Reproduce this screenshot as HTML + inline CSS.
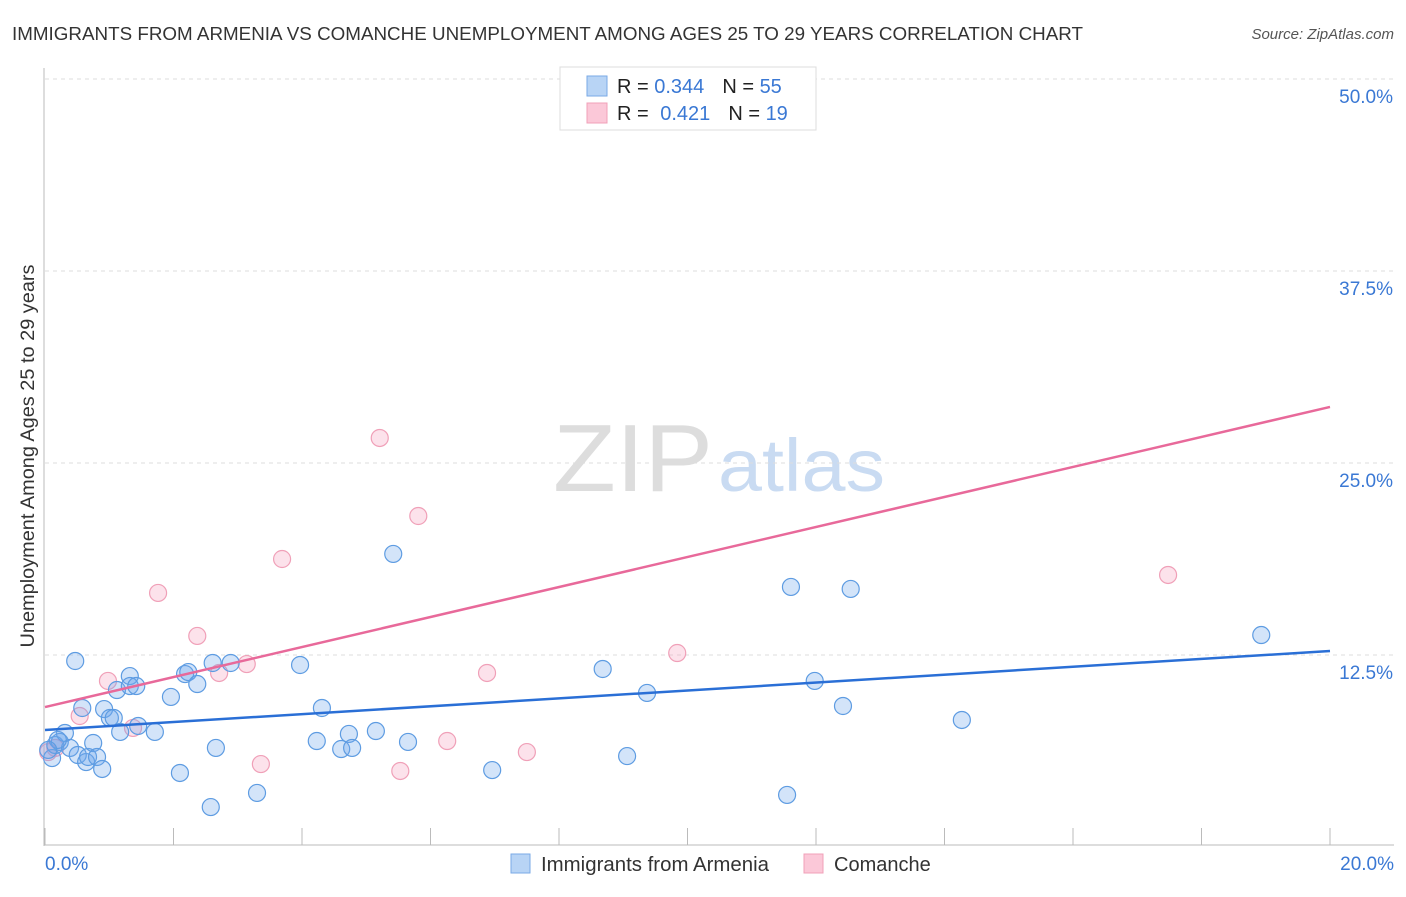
<!DOCTYPE html>
<html><head><meta charset="utf-8"><style>
body{margin:0;background:#fff;font-family:"Liberation Sans",sans-serif}
svg text{font-family:"Liberation Sans",sans-serif}
</style></head><body>
<svg id="c" width="1406" height="892" viewBox="0 0 1406 892">
<text x="12" y="40" font-size="18" fill="#333" textLength="1071" lengthAdjust="spacingAndGlyphs">IMMIGRANTS FROM ARMENIA VS COMANCHE UNEMPLOYMENT AMONG AGES 25 TO 29 YEARS CORRELATION CHART</text>
<text x="1394" y="39" font-size="15" fill="#555" font-style="italic" text-anchor="end">Source: ZipAtlas.com</text>
<g>
<text x="553" y="491" font-size="96" fill="#ddd" font-family="Liberation Serif,serif" textLength="160" lengthAdjust="spacingAndGlyphs">ZIP</text>
<text x="718" y="491" font-size="74" fill="#c9dbf2" textLength="167" lengthAdjust="spacingAndGlyphs">atlas</text>
</g>
<g id="grid"></g>
<g id="axes"></g>
<g id="marks"></g>
<g>
<rect x="560" y="67" width="256" height="63" fill="#fff" stroke="#ddd"/>
<rect x="587" y="76" width="20" height="20" fill="#b8d4f5" stroke="#7aaae6"/>
<rect x="587" y="103" width="20" height="20" fill="#fbc8d8" stroke="#f0a0b8"/>
<text x="617" y="93" font-size="20" fill="#222">R = <tspan fill="#3a78d4">0.344</tspan><tspan dx="18">N = </tspan><tspan fill="#3a78d4">55</tspan></text>
<text x="617" y="120" font-size="20" fill="#222">R = <tspan dx="6" fill="#3a78d4">0.421</tspan><tspan dx="18">N = </tspan><tspan fill="#3a78d4">19</tspan></text>
</g>
<g>
<rect x="511" y="854" width="19" height="19" fill="#b8d4f5" stroke="#7aaae6"/>
<text x="541" y="871" font-size="20" fill="#333" textLength="228" lengthAdjust="spacingAndGlyphs">Immigrants from Armenia</text>
<rect x="804" y="854" width="19" height="19" fill="#fbc8d8" stroke="#f0a0b8"/>
<text x="834" y="871" font-size="20" fill="#333">Comanche</text>
</g>
<text transform="translate(34,456) rotate(-90)" font-size="19" fill="#333" text-anchor="middle" textLength="383" lengthAdjust="spacingAndGlyphs">Unemployment Among Ages 25 to 29 years</text>
</svg>
<script>
const yTicks=[12.5,25,37.5,50];
const yTickLabels=["12.5%","25.0%","37.5%","50.0%"];
const blueX=[0.11,0.16,0.23,0.31,0.39,0.47,0.51,0.58,0.64,0.67,0.75,0.81,0.89,0.92,1.01,1.07,1.12,1.17,1.32,1.32,1.42,1.45,1.71,1.96,2.10,2.18,2.23,2.37,2.58,2.66,2.61,2.89,3.30,3.97,4.23,4.31,4.61,4.73,4.78,5.15,5.42,5.65,6.96,8.68,9.06,9.37,11.55,11.61,11.98,12.42,12.54,14.27,18.93,0.20,0.05];
const blueY=[5.79,6.64,6.84,7.42,6.45,12.11,5.99,9.05,5.53,5.86,6.77,5.86,5.08,8.98,8.40,8.40,10.22,7.49,11.13,10.48,10.48,7.88,7.49,9.77,4.82,11.26,11.39,10.61,2.60,6.45,11.98,11.98,3.52,11.85,6.90,9.05,6.38,7.36,6.45,7.55,19.08,6.84,5.01,11.59,5.92,10.03,3.39,16.93,10.81,9.18,16.80,8.27,13.80,6.97,6.32];
const pinkX=[0.05,0.16,0.54,0.98,1.37,1.76,2.37,2.71,3.14,3.36,3.69,5.21,5.53,5.81,6.26,6.88,7.50,9.84,17.48,11.28];
const pinkY=[6.18,6.45,8.53,10.81,7.75,16.54,13.74,11.33,11.91,5.40,18.75,26.63,4.95,21.55,6.90,11.33,6.18,12.63,17.71,47.66];
const blueTrend=[7.62,12.76];
const pinkTrend=[9.11,28.65];
const X=v=>45+v*64.25, Y=v=>847-v*15.36;
const NS="http://www.w3.org/2000/svg";
function mk(t,a,p){const e=document.createElementNS(NS,t);for(const k in a)e.setAttribute(k,a[k]);p.appendChild(e);return e;}
const grid=document.getElementById('grid'),axes=document.getElementById('axes'),marks=document.getElementById('marks');
yTicks.forEach((t,i)=>{
 const l=mk('line',{x1:45,x2:1394,y1:Y(t),y2:Y(t),stroke:'#ddd','stroke-dasharray':'4,4'},grid);
 
 
 const tx=mk('text',{x:1393,y:Y(t)+24,'font-size':19,fill:'#3a78d4','text-anchor':'end'},axes);
 tx.textContent=yTickLabels[i];
 
 
});
mk('line',{x1:44,x2:44,y1:68,y2:846,stroke:'#bbb'},axes);
mk('line',{x1:44,x2:1394,y1:845,y2:845,stroke:'#bbb'},axes);
for(let i=0;i<=10;i++){const t=mk('line',{x1:X(i*2),x2:X(i*2),y1:828,y2:845,stroke:'#bbb'},axes);}
const xl0=mk('text',{x:45,y:870,'font-size':19,fill:'#3a78d4'},axes);xl0.textContent='0.0%';


const xl1=mk('text',{x:1394,y:870,'font-size':19,fill:'#3a78d4','text-anchor':'end'},axes);xl1.textContent='20.0%';


pinkX.forEach((x,i)=>{const c=mk('circle',{cx:X(x),cy:Y(pinkY[i]),r:8.5,fill:'rgba(245,160,190,0.3)',stroke:'#f0a0b8','stroke-width':1.2},marks);
 
 });
blueX.forEach((x,i)=>{const c=mk('circle',{cx:X(x),cy:Y(blueY[i]),r:8.5,fill:'rgba(110,165,235,0.3)',stroke:'#5e9ce2','stroke-width':1.2},marks);
 
 });
const bl=mk('line',{x1:X(0),x2:X(20),y1:Y(blueTrend[0]),y2:Y(blueTrend[1]),stroke:'#2a6fd6','stroke-width':2.5},marks);


const pl=mk('line',{x1:X(0),x2:X(20),y1:Y(pinkTrend[0]),y2:Y(pinkTrend[1]),stroke:'#e8699a','stroke-width':2.5},marks);


</script>
</body></html>
